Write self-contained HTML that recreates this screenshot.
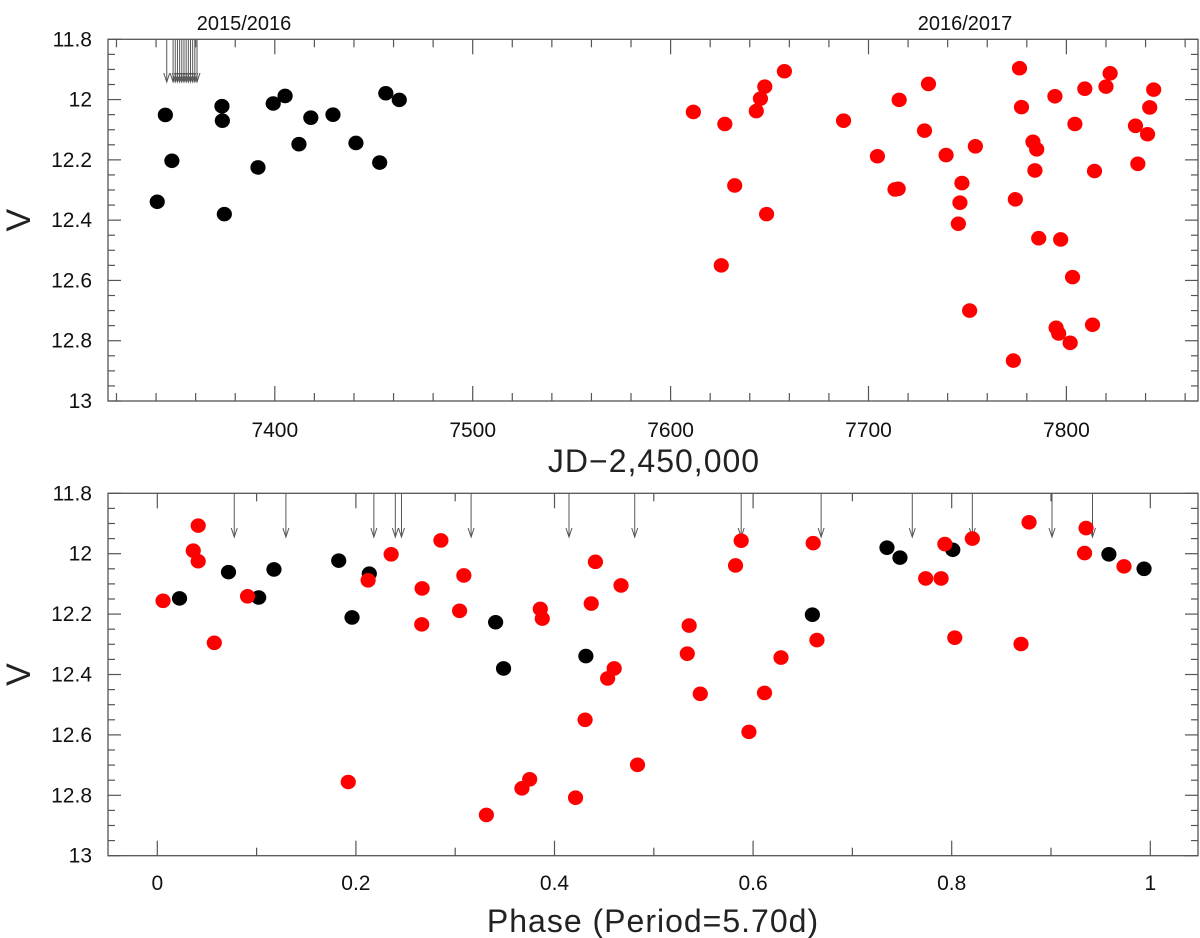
<!DOCTYPE html>
<html><head><meta charset="utf-8">
<style>
html,body{margin:0;padding:0;background:#fff;}
svg{display:block;font-family:"Liberation Sans",sans-serif;}
</style></head>
<body>
<svg id="chart" width="1200" height="938" viewBox="0 0 1200 938" xmlns="http://www.w3.org/2000/svg"></svg>
<script>
// ---- Top panel data (JD-2450000 vs V) ----
const topBlackJD = [7340.6,7344.7,7348.0,7373.3,7373.5,7374.5,7391.5,7399.2,7405.2,7412.2,7418.2,7429.4,7441.0,7453.0,7456.1,7462.9];
const topBlackV  = [12.339,12.051,12.203,12.022,12.070,12.380,12.225,12.013,11.988,12.148,12.060,12.050,12.144,12.209,11.979,12.001];
const topRedJD = [7611.5,7627.4,7632.4,7625.6,7643.3,7645.4,7647.6,7648.5,7657.5,7687.4,7704.5,7713.4,7715.0,7715.5,7728.3,7730.3,7739.2,7747.2,7746.2,7745.4,7754.0,7751.1,7773.2,7774.2,7776.3,7777.3,7783.1,7785.0,7784.1,7786.0,7794.2,7797.1,7794.8,7796.1,7801.9,7803.1,7804.3,7809.3,7813.2,7814.2,7820.0,7822.1,7834.9,7836.1,7841.0,7842.1,7844.1];
const topRedV  = [12.041,12.081,12.285,12.550,12.038,11.997,11.957,12.380,11.906,12.070,12.188,12.298,12.296,12.001,12.103,11.948,12.184,12.277,12.342,12.412,12.155,12.700,12.866,12.331,11.896,12.025,12.140,12.165,12.235,12.460,11.989,12.464,12.757,12.776,12.807,12.589,12.081,11.964,12.747,12.237,11.957,11.913,12.087,12.213,12.115,12.026,11.967];
const topArrowJD = [7345.4,7348.6,7349.7,7350.8,7351.9,7353.0,7354.1,7355.2,7356.3,7357.4,7358.5,7359.6,7360.7];
const topXTicks = [7400,7500,7600,7700,7800];
const yTicks = [11.8,12,12.2,12.4,12.6,12.8,13];
const yTickLabels = ["11.8","12","12.2","12.4","12.6","12.8","13"];

// ---- Bottom panel data (phase vs V) ----
const phBlack = [0.0224,0.0717,0.1021,0.1175,0.1827,0.2135,0.1961,0.3407,0.3487,0.4316,0.6597,0.7348,0.7479,0.8011,0.9583,0.9937];
const phBlackV = [12.148,12.061,12.145,12.052,12.023,12.066,12.211,12.227,12.380,12.339,12.202,11.980,12.013,11.987,12.002,12.050];
const phRed = [0.0058,0.0362,0.0412,0.0412,0.0574,0.0909,0.1923,0.2123,0.2355,0.2667,0.2663,0.2856,0.3044,0.3087,0.3314,0.3672,0.3750,0.3857,0.3877,0.4212,0.4308,0.4370,0.4412,0.4535,0.4601,0.4670,0.4836,0.5337,0.5356,0.5468,0.5823,0.5880,0.5958,0.6115,0.6281,0.6605,0.6643,0.7738,0.7893,0.7931,0.8031,0.8208,0.8698,0.8779,0.9338,0.9353,0.9735];
const phRedV = [12.156,11.990,11.907,12.025,12.295,12.141,12.756,12.088,12.002,12.115,12.234,11.956,12.189,12.072,12.865,12.777,12.747,12.183,12.215,12.808,12.550,12.165,12.027,12.413,12.380,12.105,12.699,12.331,12.238,12.464,12.039,11.957,12.590,12.461,12.344,11.965,12.286,12.082,12.082,11.968,12.278,11.950,12.299,11.896,11.998,11.915,12.042];
const phArrows = [0.0775,0.1295,0.2181,0.2397,0.2459,0.3160,0.4146,0.4808,0.5880,0.6685,0.7603,0.8208,0.9010,0.9418];
const phXTicks = [0,0.2,0.4,0.6,0.8,1];
const phXTickLabels = ["0","0.2","0.4","0.6","0.8","1"];

const NS = "http://www.w3.org/2000/svg";
const svg = document.getElementById('chart');
function mk(tag, attrs, parent){const e=document.createElementNS(NS,tag);for(const k in attrs)e.setAttribute(k,attrs[k]);(parent||svg).appendChild(e);return e;}

const L=108, R=1198;
const T1=39.3, B1=401, J0=7400, JPX=1.979, JX0=274.8;
const xTop = jd => JX0 + (jd-J0)*JPX;
const yTop = v => T1 + (v-11.8)/1.2*(B1-T1);
const T2=493.3, B2=855.7;
const xPh = p => 157.3 + p*993;
const yBot = v => T2 + (v-11.8)/1.2*(B2-T2);

function drawFrame(top,bot,name){
  const g=mk('g',{});
  
  
  mk('rect',{x:L,y:top,width:R-L,height:bot-top,fill:'none',stroke:'#555','stroke-width':1.3},g);
  const yl=mk('g',{});
  
  
  for(let i=0;i<=24;i++){
    const v=11.8+i*0.05; const y=top+(v-11.8)/1.2*(bot-top);
    const major=(i%4===0); const len=major?13:7;
    mk('line',{x1:L,x2:L+len,y1:y,y2:y,stroke:'#555','stroke-width':1.2},yl);
    mk('line',{x1:R,x2:R-len,y1:y,y2:y,stroke:'#555','stroke-width':1.2},yl);
  }
  yTicks.forEach((v,i)=>{
    const y=top+(v-11.8)/1.2*(bot-top);
    const t=mk('text',{x:92,y:y+7,'text-anchor':'end','font-size':21,fill:'#111'},yl);
    
    
    t.textContent=yTickLabels[i];
  });
  const vt=mk('text',{x:0,y:0,'font-size':34,fill:'#222','font-weight':'300',transform:`translate(30,${(top+bot)/2}) rotate(-90)`,'text-anchor':'middle'},g);
  
  
  vt.textContent='V';
  return g;
}

function dot(x,y,color,name){
  const c=mk('ellipse',{cx:x,cy:y,rx:7.6,ry:7.3,fill:color});
  
  
}
function arrow(x,y0,y1,name){
  const g=mk('g',{stroke:'#555','stroke-width':1,fill:'none'});
  
  
  mk('line',{x1:x,x2:x,y1:y0,y2:y1},g);
  mk('polyline',{points:`${x-3},${y1-9} ${x},${y1} ${x+3},${y1-9}`},g);
}

// ---- TOP PANEL ----
drawFrame(T1,B1,'top-panel');
const tx=mk('g',{});


for(let jd=7320;jd<=7880;jd+=20){
  const x=xTop(jd); if(x<L||x>R) continue;
  const len=(jd%100===0)?15:8;
  mk('line',{x1:x,x2:x,y1:B1,y2:B1-len,stroke:'#555','stroke-width':1.2},tx);
  mk('line',{x1:x,x2:x,y1:T1,y2:T1+len,stroke:'#555','stroke-width':1.2},tx);
}
topXTicks.forEach(v=>{
  const t=mk('text',{x:xTop(v),y:437,'text-anchor':'middle','font-size':21,fill:'#111'},tx);
  
  
  t.textContent=String(v);
});
const jdt=mk('text',{x:654,y:472,'text-anchor':'middle','font-size':32,fill:'#222','font-weight':'300','letter-spacing':'1'});


jdt.textContent='JD\u22122,450,000';
const s1=mk('text',{x:244,y:30,'text-anchor':'middle','font-size':20,fill:'#111'});


s1.textContent='2015/2016';
const s2=mk('text',{x:965,y:30,'text-anchor':'middle','font-size':20,fill:'#111'});


s2.textContent='2016/2017';
topArrowJD.forEach(jd=>arrow(xTop(jd),T1,82,'top-arrow'));
topBlackJD.forEach((jd,i)=>dot(xTop(jd),yTop(topBlackV[i]),'#000','top-point-2015'));
topRedJD.forEach((jd,i)=>dot(xTop(jd),yTop(topRedV[i]),'#ff0000','top-point-2016'));

// ---- BOTTOM PANEL ----
drawFrame(T2,B2,'bottom-panel');
const bx=mk('g',{});


for(let i=0;i<=10;i++){
  const p=i/10; const x=xPh(p);
  const len=(i%2===0)?15:8;
  mk('line',{x1:x,x2:x,y1:B2,y2:B2-len,stroke:'#555','stroke-width':1.2},bx);
  mk('line',{x1:x,x2:x,y1:T2,y2:T2+len,stroke:'#555','stroke-width':1.2},bx);
}
phXTicks.forEach((v,i)=>{
  const t=mk('text',{x:xPh(v),y:890,'text-anchor':'middle','font-size':21,fill:'#111'},bx);
  
  
  t.textContent=phXTickLabels[i];
});
const pt=mk('text',{x:653,y:932,'text-anchor':'middle','font-size':32,fill:'#222','font-weight':'300','letter-spacing':'1'});


pt.textContent='Phase (Period=5.70d)';
phArrows.forEach(p=>arrow(xPh(p),T2,537,'phase-arrow'));
phBlack.forEach((p,i)=>dot(xPh(p),yBot(phBlackV[i]),'#000','phase-point-2015'));
phRed.forEach((p,i)=>dot(xPh(p),yBot(phRedV[i]),'#ff0000','phase-point-2016'));
</script>
</body></html>
